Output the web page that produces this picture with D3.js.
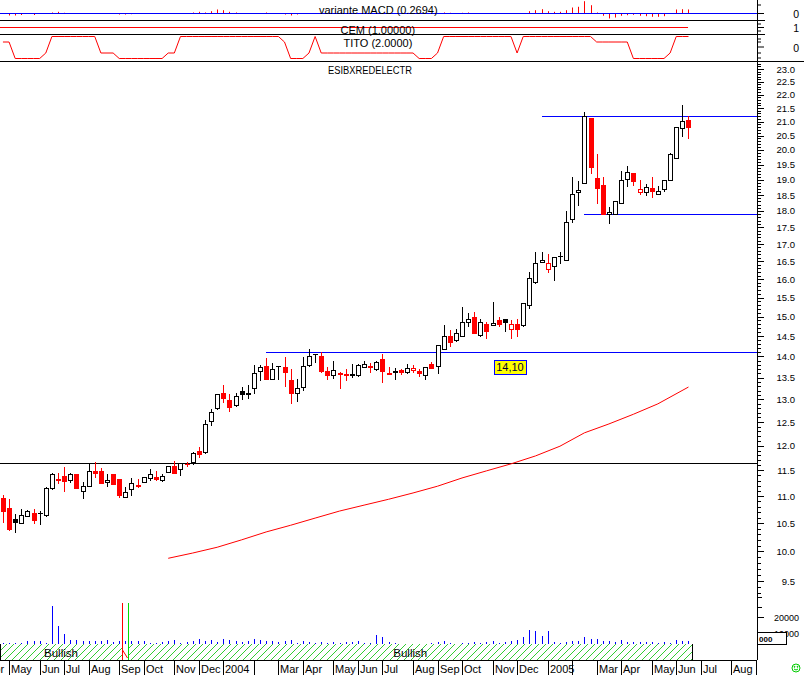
<!DOCTYPE html>
<html><head><meta charset="utf-8"><title>ESIBXREDELECTR</title>
<script src="https://cdn.jsdelivr.net/npm/d3@7/dist/d3.min.js"></script>
<style>html,body{margin:0;padding:0;background:#fff}svg{display:block}text{font-family:"Liberation Sans",Arial,sans-serif}</style>
</head><body><svg id="chart" width="804" height="675"></svg>
<script>
// ---------------- DATA ----------------
const firstWeek = new Date(2003, 3, 25);   // weekly bars (Fridays)
const lastWeek  = new Date(2005, 5, 17);
const opens = [10.97,10.78,10.57,10.50,10.63,10.69,10.69,10.65,11.15,11.33,
11.39,11.32,11.43,11.10,11.19,11.49,11.48,11.28,11.43,11.33,
10.98,11.13,11.19,11.28,11.34,11.37,11.32,11.46,11.58,11.52,
11.63,11.67,11.89,11.88,12.52,12.81,13.15,12.99,12.87,13.19,
13.14,13.25,13.66,13.77,13.47,13.77,13.74,13.44,13.14,13.28,
13.80,14.07,14.02,13.65,13.57,13.60,13.58,13.58,13.57,13.74,
13.76,13.70,13.94,13.60,13.65,13.67,13.62,13.67,13.65,13.57,
13.81,13.77,14.17,14.50,14.41,14.50,14.86,15.00,14.53,14.82,
14.78,14.91,14.93,14.67,14.82,14.78,15.31,15.93,16.47,16.27,
16.37,16.66,16.54,17.74,18.60,18.88,21.15,19.07,18.83,17.90,
17.90,18.26,19.02,19.23,18.59,18.59,18.74,18.54,18.69,18.99,
19.74,20.78,21.06];
const highs = [11.02,10.94,10.66,10.75,10.74,10.75,10.72,11.17,11.44,11.44,
11.57,11.44,11.43,11.28,11.64,11.66,11.54,11.42,11.43,11.33,
11.18,11.34,11.33,11.36,11.53,11.48,11.43,11.58,11.69,11.64,
11.67,11.88,11.97,12.54,12.78,13.13,13.33,13.13,13.15,13.27,
13.33,13.80,13.80,13.96,13.85,13.77,13.98,13.70,13.47,13.98,
14.17,14.07,14.10,13.75,13.88,13.62,13.70,13.83,13.82,13.90,
13.85,13.90,14.06,13.75,13.73,13.69,13.81,13.80,13.70,13.75,
13.86,14.28,14.78,14.65,14.67,15.26,15.08,15.13,14.94,14.85,
15.39,15.00,14.93,14.91,14.93,15.36,16.21,16.78,16.78,16.70,
16.63,16.76,18.01,19.08,18.95,21.37,21.15,19.86,19.08,18.12,
18.31,19.30,19.46,19.23,18.99,18.87,19.08,18.80,18.99,19.90,
20.80,21.61,21.21];
const lows = [10.51,10.38,10.34,10.50,10.62,10.50,10.49,10.63,11.13,11.25,
11.10,11.28,11.15,10.96,11.19,11.36,11.26,11.20,11.24,10.99,
10.98,11.03,11.17,11.28,11.32,11.31,11.30,11.46,11.45,11.40,
11.58,11.62,11.77,11.86,12.43,12.78,12.95,12.75,12.85,13.00,
13.02,13.15,13.44,13.46,13.47,13.47,13.31,12.93,12.97,13.22,
13.77,13.86,13.62,13.47,13.48,13.26,13.44,13.51,13.54,13.74,
13.64,13.67,13.40,13.59,13.47,13.59,13.60,13.64,13.53,13.47,
13.72,13.60,14.17,14.25,14.38,14.50,14.76,14.59,14.51,14.45,
14.78,14.76,14.63,14.45,14.51,14.76,15.22,15.90,16.47,16.21,
15.99,16.44,16.54,17.67,18.20,18.88,19.23,18.26,17.90,17.62,
17.90,18.26,18.80,18.81,18.54,18.50,18.45,18.54,18.64,18.99,
19.72,20.49,20.41];
const closes = [10.72,10.40,10.52,10.65,10.72,10.55,10.68,11.15,11.43,11.32,
11.30,11.43,11.15,11.19,11.49,11.44,11.26,11.32,11.24,11.02,
11.07,11.25,11.22,11.36,11.43,11.33,11.39,11.58,11.45,11.64,
11.62,11.85,11.82,12.45,12.73,13.12,13.04,12.82,13.08,13.12,
13.13,13.61,13.75,13.46,13.69,13.76,13.62,13.14,13.26,13.77,
14.02,14.06,13.66,13.57,13.67,13.59,13.57,13.57,13.80,13.82,
13.75,13.86,13.66,13.59,13.63,13.62,13.73,13.72,13.60,13.74,
13.73,14.28,14.50,14.36,14.59,14.86,14.94,14.59,14.85,14.63,
14.84,14.81,14.85,14.80,14.67,15.36,16.02,16.44,16.54,16.44,
16.63,16.65,17.67,18.53,18.67,21.21,19.43,18.74,17.90,17.96,
18.31,18.99,19.26,18.94,18.69,18.77,18.62,18.64,18.99,19.86,
20.80,21.02,20.82];
const volumes = [3560,3560,3560,3560,4625,4625,5000,3375,26875,14375,
9375,5250,5625,5000,5000,5000,4625,5625,4000,5000,
4625,4625,4625,4625,3375,3375,4000,4625,5625,3375,
4000,4625,6250,4625,5625,4000,6250,5250,4625,4000,
4625,6250,5250,4625,5000,4000,4625,5625,3375,4625,
4000,3375,4000,3375,4000,3375,4000,4000,5000,3375,
3375,8750,7300,4000,3375,3125,3125,3125,3125,3125,
3375,4000,5000,3375,3125,3375,3375,4000,3375,4000,
5000,3375,4000,4625,5625,7125,11875,10875,7750,10875,
4000,3375,4000,5000,5000,7125,6250,6250,5000,5000,
4000,5625,4000,4000,4000,4000,4000,3375,4000,3375,
5250,4625,4625];
const macd = [0,-0.133,-0.133,-0.1,0,-0.1,0,0,0.067,0.113,
0.047,0.02,0,0,0.02,0,0.02,0,0,-0.067,
-0.067,-0.047,-0.02,-0.02,0,0,0,0,0,0,
0,0.067,0.113,0.067,0.153,0.267,0.22,0.113,0.067,0,
0,0.02,0.02,0.067,0,0,-0.067,-0.133,-0.067,0,
0,0,0,0,0,0,0,0,0,0,
0,0,0,0,0,0,0,0,0,0,
0,0,0.067,0.047,0.02,0.047,0.067,0,0,0,
0,0,0,0.02,0.02,0,0.153,0.22,0.287,0.153,
0.113,0.113,0.22,0.4,0.447,0.82,0.553,0.067,-0.153,-0.333,
-0.267,-0.153,-0.113,-0.087,-0.153,-0.18,-0.22,-0.22,-0.18,0,
0.267,0.287,0.2694];
const tito = [1,1,-2,-2,-2,-2,-2,-1,2,2,
2,2,2,2,2,2,-1,-1,-1,-2,
-2,-2,-2,-2,-2,-2,-2,-1,-1,2,
2,2,2,2,2,2,2,2,2,2,
2,2,2,2,2,2,1,-2,-2,-2,
-1,2,-1,-1,-1,-1,-1,-1,-1,-1,
-1,-1,-1,-1,-1,-1,-1,-1,-2,-2,
-2,-1,2,2,2,2,2,2,2,2,
2,2,2,2,-1,2,2,2,2,2,
2,2,2,2,2,2,2,1,1,1,
1,1,1,-2,-2,-2,-2,-2,-2,-1,
2,2,2];
const cemLevel = 1.0;
// moving average read at selected bars (bar index, value)
const maIndex  = [27,31,35,39,43,47,51,55,59,63,67,71,75,79,83,87,91,95,99,103,107,112];
const maValues = [9.88,9.97,10.07,10.20,10.34,10.46,10.59,10.72,10.83,10.94,11.06,11.19,11.35,11.49,11.63,11.79,11.99,12.27,12.46,12.67,12.90,13.28];
// horizontal reference lines (level, start bar index)
const hLevels = [11.65, 14.10, 21.20, 17.90];
const hStart  = [null, 43, 88, 95];
const hColor  = ["#000000","#0000ff","#0000ff","#0000ff"];
const tagValue = 14.10, tagBar = 83;
// trend band: signal bars and band labels
const signalBars   = [19, 20];
const signalColors = ["#ff0000","#00dd00"];
const bandLabels   = ["Bullish","Bullish"];
const monthLabels = ["Apr","May","Jun","Jul","Aug","Sep","Oct","Nov","Dec","2004","","Mar","Apr","May","Jun","Jul","Aug","Sep","Oct","Nov","Dec","2005","","Mar","Apr","May","Jun","Jul","Aug","Sep"];
const priceLabels = d3.range(19, 47).map(v => v / 2);
const volLabels = [20000, 10000];
const chartTitle = "ESIBXREDELECTR";

// ---------------- SCALES ----------------
const svg = d3.select("#chart");
const AX = 757;
const dates = d3.timeFriday.every(1).range(firstWeek, d3.timeDay.offset(lastWeek, 1));
const n = dates.length;
const x = d3.scaleTime().domain([new Date(2004,0,2), new Date(2005,0,7)]).range([223.3, 547.7]);
const px = d => Math.round(x(d));
const y = d3.scaleLog().domain([9.5, 23]).range([581, 69]);
const yMacd = d3.scaleLinear().domain([0, 1]).range([13.5, -1.5]);
const yCem = d3.scaleLinear().domain([0, 1]).range([41.5, 27.5]);
const yTito = d3.scaleLinear().domain([-2, 2]).range([58.5, 36.5]);
const yVol = d3.scaleLinear().domain([0, 20000]).range([648.7, 616.7]);
const RED = "#ff0000", BLUE = "#0000ff";

const defs = svg.append("defs");
defs.append("clipPath").attr("id","cTop").append("rect").attr("x",0).attr("y",0).attr("width",AX).attr("height",61);
defs.append("clipPath").attr("id","cMain").append("rect").attr("x",0).attr("y",62).attr("width",AX).attr("height",582);
defs.append("clipPath").attr("id","cAxis").append("rect").attr("x",0).attr("y",660).attr("width",AX).attr("height",15);
const pat = defs.append("pattern").attr("id","hatch").attr("patternUnits","userSpaceOnUse").attr("width",7).attr("height",7);
pat.append("rect").attr("width",7).attr("height",7).attr("fill","#fff");
pat.append("path").attr("d","M-1,1 l2,-2 M0,7 l7,-7 M6,8 l2,-2").attr("stroke","#33cc33").attr("stroke-width",1);

svg.append("rect").attr("width",804).attr("height",675).attr("fill","#fff");

// ---------------- TOP PANELS ----------------
const topG = svg.append("g").attr("clip-path","url(#cTop)");
topG.selectAll("line.macd").data(dates.map((d,i)=>({d,v:macd[i]})).filter(e=>e.v!==0))
  .join("line").attr("x1",e=>px(e.d)+0.5).attr("x2",e=>px(e.d)+0.5)
  .attr("y1",yMacd(0)).attr("y2",e=>yMacd(e.v)).attr("stroke",RED);
topG.append("line").attr("x1",0).attr("x2",AX).attr("y1",yMacd(0)).attr("y2",yMacd(0)).attr("stroke",BLUE);
topG.append("line").attr("x1",0).attr("x2",px(dates[n-1])).attr("y1",yCem(cemLevel)).attr("y2",yCem(cemLevel)).attr("stroke",RED);
topG.append("path").attr("fill","none").attr("stroke",RED)
  .attr("d", d3.line().x((d,i)=>x(d)).y((d,i)=>yTito(tito[i]))(dates));
[20.5, 34.5].forEach(v => svg.append("line").attr("x1",0).attr("x2",765).attr("y1",v).attr("y2",v).attr("stroke","#000"));
svg.append("line").attr("x1",0).attr("x2",804).attr("y1",61.5).attr("y2",61.5).attr("stroke","#000");
svg.append("text").attr("x",319).attr("y",14).attr("font-size",11).text(`variante MACD (${macd[n-1].toFixed(4)})`);
svg.append("text").attr("x",340.5).attr("y",33.5).attr("font-size",11).text(`CEM (${cemLevel.toFixed(5)})`);
svg.append("text").attr("x",343.5).attr("y",46.5).attr("font-size",11).text(`TITO (${tito[n-1].toFixed(4)})`);

// ---------------- MAIN PANEL ----------------
const mainG = svg.append("g").attr("clip-path","url(#cMain)");
hLevels.forEach((lv,k) => {
  const yy = Math.round(y(lv)) + 0.5;
  mainG.append("line").attr("x1", hStart[k]===null ? 0 : px(dates[hStart[k]])).attr("x2", AX)
    .attr("y1",yy).attr("y2",yy).attr("stroke",hColor[k]);
});
mainG.append("path").attr("fill","none").attr("stroke",RED)
  .attr("d", d3.line().x((v,k)=>x(dates[maIndex[k]])).y(v=>y(v))(maValues));

const bars = dates.map((d,i)=>{
  const o=opens[i], c=closes[i], prev = i>0 ? closes[i-1] : o;
  return {d, o, h:highs[i], l:lows[i], c, filled: c<=o, col: c<prev ? RED : "#000"};
});
const cg = mainG.append("g");
bars.forEach(b => {
  const cx = px(b.d);
  const yt = Math.round(y(Math.max(b.o,b.c))), yb = Math.round(y(Math.min(b.o,b.c)));
  const yh = Math.round(y(b.h)), yl = Math.round(y(b.l));
  cg.append("line").attr("x1",cx+0.5).attr("x2",cx+0.5).attr("y1",yh).attr("y2",yl+1).attr("stroke",b.col);
  if (yb - yt < 1) {
    cg.append("line").attr("x1",cx-2).attr("x2",cx+3).attr("y1",yt+0.5).attr("y2",yt+0.5).attr("stroke",b.col);
  } else if (b.filled) {
    cg.append("rect").attr("x",cx-2).attr("y",yt).attr("width",5).attr("height",yb-yt+1).attr("fill",b.col);
  } else {
    cg.append("rect").attr("x",cx-1.5).attr("y",yt+0.5).attr("width",4).attr("height",yb-yt).attr("fill","#fff").attr("stroke",b.col);
  }
});
// value tag
const tagX = x(dates[tagBar]) - 1, tagY = y(tagValue);
mainG.append("rect").attr("x",Math.round(tagX-16)+0.5).attr("y",Math.round(tagY+8)+0.5).attr("width",32).attr("height",14)
  .attr("fill","#ffff00").attr("stroke",BLUE);
mainG.append("text").attr("x",tagX).attr("y",tagY+19).attr("text-anchor","middle").attr("font-size",11).attr("fill","#000033")
  .text(tagValue.toFixed(2).replace(".",","));
svg.append("text").attr("x",370).attr("y",74).attr("text-anchor","middle").attr("font-size",10)
  .attr("textLength",84).attr("lengthAdjust","spacingAndGlyphs").text(chartTitle);

// ---------------- VOLUME + BAND ----------------
const vg = svg.append("g");
vg.selectAll("line").data(dates.map((d,i)=>({d,v:volumes[i]}))).join("line")
  .attr("x1",e=>px(e.d)+0.5).attr("x2",e=>px(e.d)+0.5)
  .attr("y1",yVol(0)).attr("y2",e=>Math.round(yVol(e.v))).attr("stroke",BLUE);
const s1 = px(dates[signalBars[0]])+3, s2 = px(dates[signalBars[1]])+3, bEnd = px(dates[n-1])+4.5;
svg.append("rect").attr("x",0).attr("y",644).attr("width",s1).attr("height",16).attr("fill","url(#hatch)");
svg.append("rect").attr("x",s1).attr("y",644).attr("width",s2-s1).attr("height",16).attr("fill","#fff");
svg.append("rect").attr("x",s2).attr("y",644).attr("width",bEnd-s2).attr("height",16).attr("fill","url(#hatch)");
svg.append("rect").attr("x",bEnd).attr("y",644).attr("width",AX-bEnd).attr("height",16).attr("fill","#fff");
svg.append("line").attr("x1",s1+0.5).attr("x2",s2-0.5).attr("y1",650).attr("y2",658).attr("stroke",RED);
[0.5, bEnd].forEach(v=>svg.append("line").attr("x1",v).attr("x2",v).attr("y1",644).attr("y2",660).attr("stroke","#000"));
signalBars.forEach((b,k)=>{
  const sx = px(dates[b])+3.5;
  svg.append("line").attr("x1",sx).attr("x2",sx).attr("y1",603).attr("y2",660).attr("stroke",signalColors[k]);
});
svg.append("text").attr("x",s1/2).attr("y",657).attr("text-anchor","middle").attr("font-size",11.5).text(bandLabels[0]);
svg.append("text").attr("x",(s2+bEnd)/2).attr("y",657).attr("text-anchor","middle").attr("font-size",11.5).text(bandLabels[1]);

// ---------------- X AXIS ----------------
svg.append("line").attr("x1",0).attr("x2",AX).attr("y1",660.5).attr("y2",660.5).attr("stroke","#000");
const mTicks = monthLabels.map((lab,i)=>({lab, d:d3.timeFriday.ceil(new Date(2003,3+i,1))}));
const xa = svg.append("g").attr("clip-path","url(#cAxis)");
xa.selectAll("line").data(mTicks).join("line")
  .attr("x1",t=>px(t.d)+0.5).attr("x2",t=>px(t.d)+0.5).attr("y1",660).attr("y2",675).attr("stroke","#000");
xa.selectAll("text").data(mTicks).join("text")
  .attr("x",t=>px(t.d)+2).attr("y",673).attr("font-size",11).text(t=>t.lab);

// ---------------- RIGHT AXIS ----------------
svg.append("line").attr("x1",AX+0.5).attr("x2",AX+0.5).attr("y1",0).attr("y2",660).attr("stroke","#000");
const ra = svg.append("g");
d3.range(90, 236).forEach(k => {
  const v = k/10, yy = Math.round(y(v)) + 0.5;
  if (yy < 62 || yy > 600) return;
  ra.append("line").attr("x1",AX).attr("x2",AX + (k % 5 === 0 ? 7 : 4)).attr("y1",yy).attr("y2",yy).attr("stroke","#000");
});
ra.selectAll("text.p").data(priceLabels).join("text")
  .attr("x",795).attr("y",v=>y(v)+3.5).attr("text-anchor","end").attr("font-size",9.5).text(v=>v.toFixed(1));
[[5,4],[13.5,7],[24,4],[27.5,7],[31,4],[39,4],[42,4],[47,7],[53,4],[58,4]].forEach(([yy,l])=>
  ra.append("line").attr("x1",AX).attr("x2",AX+l).attr("y1",yy).attr("y2",yy).attr("stroke","#000"));
ra.append("text").attr("x",799).attr("y",yMacd(0)+4).attr("text-anchor","end").attr("font-size",10.5).text("0");
ra.append("text").attr("x",799).attr("y",yCem(1)+4).attr("text-anchor","end").attr("font-size",10.5).text("1");
ra.append("text").attr("x",799).attr("y",yTito(0)+4.5).attr("text-anchor","end").attr("font-size",10.5).text("0");
[597, 607].forEach(yy=>ra.append("line").attr("x1",AX).attr("x2",AX+5).attr("y1",yy+0.5).attr("y2",yy+0.5).attr("stroke","#000"));
volLabels.forEach(v=>{
  const yy = Math.round(yVol(v))+0.5;
  ra.append("line").attr("x1",AX).attr("x2",AX+7).attr("y1",yy).attr("y2",yy).attr("stroke","#000");
  ra.append("text").attr("x",799).attr("y",yy+3.5).attr("text-anchor","end").attr("font-size",9).text(v);
});
ra.append("rect").attr("x",757.5).attr("y",632.5).attr("width",29).attr("height",12).attr("fill","#fff").attr("stroke","#000");
ra.append("text").attr("x",759).attr("y",642).attr("font-size",8).attr("font-weight","bold").text("000");
// smiley
const sm = svg.append("g").attr("transform","translate(796,668)").attr("stroke","#00cc00").attr("fill","none");
sm.append("circle").attr("r",4);
sm.append("path").attr("d","M-2,1 Q0,3 2,1");
sm.append("circle").attr("cx",-1.5).attr("cy",-1.2).attr("r",0.5).attr("fill","#00cc00");
sm.append("circle").attr("cx",1.5).attr("cy",-1.2).attr("r",0.5).attr("fill","#00cc00");
</script></body></html>
